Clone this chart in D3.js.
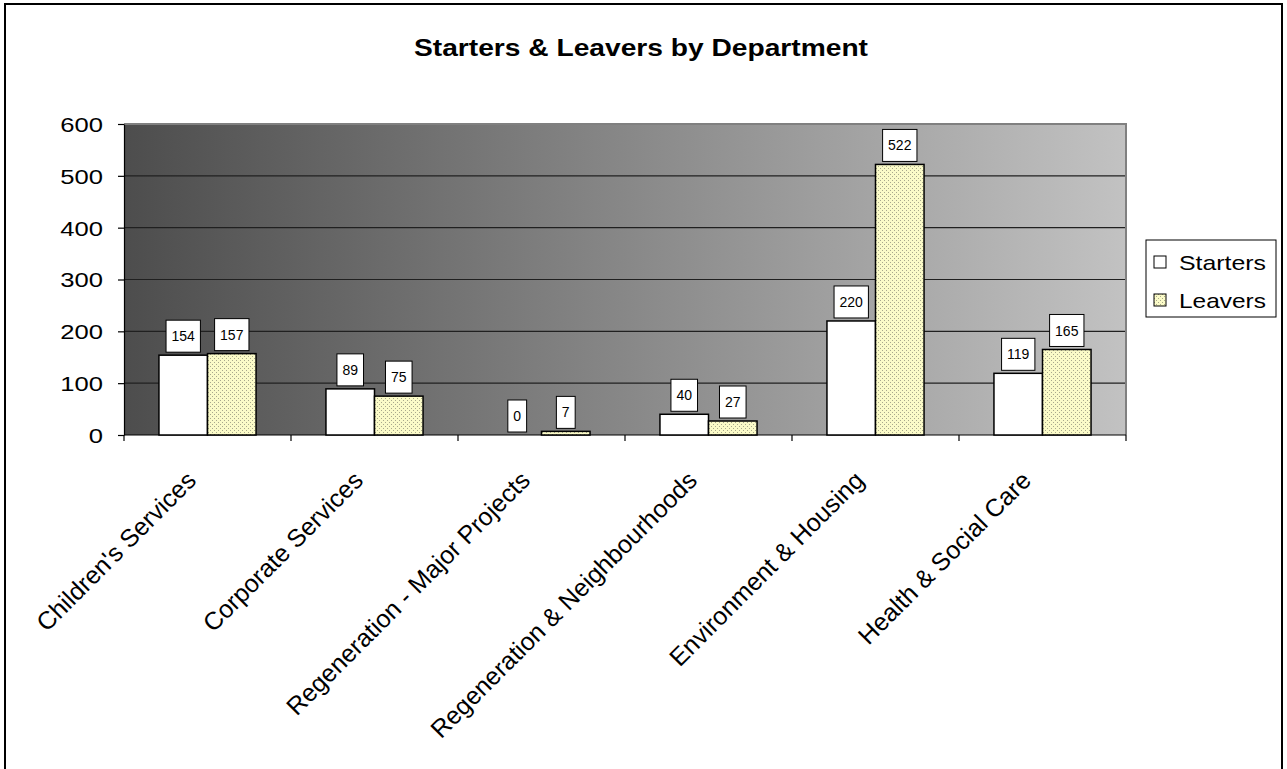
<!DOCTYPE html>
<html>
<head>
<meta charset="utf-8">
<script src="https://cdn.jsdelivr.net/npm/d3@7"></script>
<style>
  html, body { margin: 0; padding: 0; background: #ffffff; }
  svg { display: block; font-family: Arial, "Liberation Sans", sans-serif; }
</style>
</head>
<body>
<svg id="chart" width="1287" height="769"></svg>
<script>
const categories = ["Children's Services", "Corporate Services", "Regeneration - Major Projects", "Regeneration & Neighbourhoods", "Environment & Housing", "Health & Social Care"];
const seriesNames = ["Starters", "Leavers"];
const starters = [154, 89, 0, 40, 220, 119];
const leavers = [157, 75, 7, 27, 522, 165];
const yTicks = [0, 100, 200, 300, 400, 500, 600];
const chartTitle = "Starters & Leavers by Department";

const svg = d3.select("#chart");
const W = 1287, H = 769;
const plot = { left: 124, right: 1126, top: 124, bottom: 435 };
const stretch = 1.22; // horizontal widening of the text in the source picture

// defs
const defs = svg.append("defs");
const grad = defs.append("linearGradient").attr("id", "bg").attr("x1", "0%").attr("x2", "100%").attr("y1", "0%").attr("y2", "0%");
grad.append("stop").attr("offset", "0%").attr("stop-color", "#4d4d4d");
grad.append("stop").attr("offset", "100%").attr("stop-color", "#c2c2c2");

const pat = defs.append("pattern").attr("id", "dots").attr("patternUnits", "userSpaceOnUse")
  .attr("width", 4).attr("height", 4);
pat.append("rect").attr("width", 4).attr("height", 4).attr("fill", "#fbfbc8");
pat.append("rect").attr("x", 0).attr("y", 0).attr("width", 1).attr("height", 1).attr("fill", "#a9a98c");
pat.append("rect").attr("x", 2).attr("y", 2).attr("width", 1).attr("height", 1).attr("fill", "#a9a98c");

// outer border (bottom cut off)
svg.append("path")
  .attr("d", `M5,${H} L5,4 L1282,4 L1282,${H}`)
  .attr("fill", "none").attr("stroke", "#000").attr("stroke-width", 2);

// title
const title = svg.append("text").attr("x", 641).attr("y", 56).attr("text-anchor", "middle")
  .attr("font-size", 23).attr("font-weight", "bold").text(chartTitle);
title.attr("textLength", 454).attr("lengthAdjust", "spacingAndGlyphs");

// scales
const x0 = d3.scaleBand().domain(categories).range([plot.left, plot.right]).padding(0);
const x1 = d3.scaleBand().domain(seriesNames).range([0, x0.bandwidth()]).paddingInner(0).paddingOuter(0.72);
const y = d3.scaleLinear().domain([0, 600]).range([plot.bottom, plot.top]);

// plot background
svg.append("rect").attr("x", plot.left).attr("y", plot.top)
  .attr("width", plot.right - plot.left).attr("height", plot.bottom - plot.top)
  .attr("fill", "url(#bg)");

// gridlines
svg.append("g").selectAll("line").data(yTicks.filter(d => d > 0 && d < 600)).join("line")
  .attr("x1", plot.left).attr("x2", plot.right)
  .attr("y1", d => y(d)).attr("y2", d => y(d))
  .attr("stroke", "#202020").attr("stroke-width", 1.2);

// plot border top/right
svg.append("path")
  .attr("d", `M${plot.left},${plot.top} L${plot.right},${plot.top} L${plot.right},${plot.bottom}`)
  .attr("fill", "none").attr("stroke", "#808080").attr("stroke-width", 2);

// y axis
const yAxis = d3.axisLeft(y).tickValues(yTicks).tickSize(6).tickPadding(12).tickSizeOuter(0);
const gy = svg.append("g").attr("transform", `translate(${plot.left},0)`).call(yAxis);
gy.select(".domain").attr("stroke", "#000").attr("stroke-width", 1.2);
gy.selectAll(".tick line").attr("stroke", "#000").attr("stroke-width", 1.2);
gy.selectAll(".tick text").attr("font-size", 21).attr("fill", "#000")
  .attr("font-family", "Arial, 'Liberation Sans', sans-serif").attr("dy", "0.35em")
  .attr("x", -21 / stretch)
  .attr("transform", `scale(${stretch},1)`);

// x axis
const gx = svg.append("g").attr("transform", `translate(0,${plot.bottom})`);
gx.append("line").attr("x1", plot.left).attr("x2", plot.right).attr("y1", 0).attr("y2", 0)
  .attr("stroke", "#000").attr("stroke-width", 1.2);
const boundaries = categories.map(c => x0(c)).concat([x0(categories[categories.length - 1]) + x0.bandwidth()]);
gx.selectAll("line.tk").data(boundaries).join("line").attr("class", "tk")
  .attr("x1", d => d).attr("x2", d => d).attr("y1", 0).attr("y2", 6)
  .attr("stroke", "#000").attr("stroke-width", 1.2);
gx.selectAll("text").data(categories).join("text")
  .attr("transform", d => `translate(${x0(d) + x0.bandwidth() / 2 - 10},${47}) rotate(-45)`)
  .attr("text-anchor", "end")
  .attr("font-size", 25).attr("fill", "#000").text(d => d);

// bars
const rows = categories.map((c, i) => ({ cat: c, vals: [{ s: "Starters", v: starters[i] }, { s: "Leavers", v: leavers[i] }] }));
const groups = svg.append("g").selectAll("g").data(rows).join("g")
  .attr("transform", d => `translate(${x0(d.cat)},0)`);
groups.selectAll("rect").data(d => d.vals).join("rect")
  .attr("x", d => x1(d.s)).attr("width", x1.bandwidth())
  .attr("y", d => y(d.v)).attr("height", d => y(0) - y(d.v))
  .attr("fill", d => d.s === "Starters" ? "#ffffff" : "url(#dots)")
  .attr("stroke", "#000").attr("stroke-width", 1.5);

// data labels
groups.each(function (d) {
  const g = d3.select(this);
  d.vals.forEach(v => {
    const cx = x1(v.s) + x1.bandwidth() / 2;
    const t = g.append("text").attr("x", cx).attr("font-size", 14).attr("text-anchor", "middle")
      .attr("fill", "#000").text(v.v);
    const tw = t.node().getComputedTextLength();
    const bw = tw + 11, bh = 32;
    const by = y(v.v) - 3 - bh;
    g.insert("rect", "text").attr("x", cx - bw / 2).attr("y", by).attr("width", bw).attr("height", bh)
      .attr("fill", "#fff").attr("stroke", "#000").attr("stroke-width", 1);
    t.attr("y", by + bh / 2).attr("dy", "0.36em");
  });
});

// legend
const lg = svg.append("g");
lg.append("rect").attr("x", 1146).attr("y", 240).attr("width", 130).attr("height", 77)
  .attr("fill", "#fff").attr("stroke", "#000").attr("stroke-width", 1);
seriesNames.forEach((s, i) => {
  const cy = 262 + i * 38;
  lg.append("rect").attr("x", 1154).attr("y", cy - 6).attr("width", 12).attr("height", 12)
    .attr("fill", s === "Starters" ? "#fff" : "url(#dots)").attr("stroke", "#000").attr("stroke-width", 1);
  const t = lg.append("text").attr("x", 1179).attr("y", cy).attr("dy", "0.36em").attr("font-size", 21).text(s);
  t.attr("textLength", 87).attr("lengthAdjust", "spacingAndGlyphs");
});
</script>
</body>
</html>
